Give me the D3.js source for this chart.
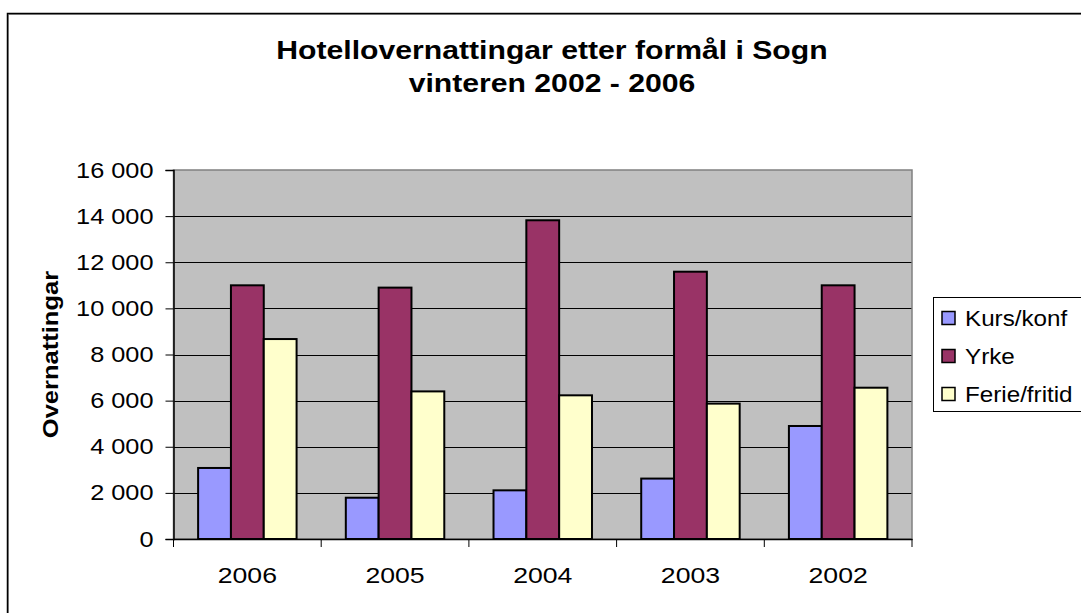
<!DOCTYPE html>
<html><head><meta charset="utf-8">
<script src="https://cdn.jsdelivr.net/npm/d3@7"></script>
<style>body{margin:0;background:#fff}svg{display:block;font-family:"Liberation Sans",Arial,sans-serif}</style>
</head><body><svg id="c" width="1081" height="613"></svg>
<script>
const years = ["2006","2005","2004","2003","2002"];
const seriesNames = ["Kurs/konf","Yrke","Ferie/fritid"];
const kurs = [3080,1790,2110,2620,4900];
const yrke = [11000,10900,13820,11590,11000];
const ferie = [8670,6400,6230,5870,6560];
const yTicks = [0,2000,4000,6000,8000,10000,12000,14000,16000];
const colors = ["#9999FF","#993366","#FFFFCC"];
const seriesVals = [kurs,yrke,ferie];

function stretch(sel, f){
  sel.each(function(){
    const w = this.getComputedTextLength();
    d3.select(this).attr("textLength", w*f).attr("lengthAdjust","spacingAndGlyphs");
  });
}

const svg = d3.select("#c");
svg.append("rect").attr("x",8.5).attr("y",14.5).attr("width",1090).attr("height",620).attr("fill","none").attr("stroke","#999").attr("stroke-width",1);
svg.append("rect").attr("x",7.5).attr("y",13.5).attr("width",1090).attr("height",620).attr("fill","none").attr("stroke","#000").attr("stroke-width",1.5);

const L=173.5,R=912,T=170,B=539;
const x = d3.scaleBand().domain(years).range([L,R]).paddingInner(0).paddingOuter(0);
const y = d3.scaleLinear().domain([0,16000]).range([B,T]);

svg.append("rect").attr("x",L).attr("y",T).attr("width",R-L).attr("height",B-T).attr("fill","#C0C0C0");
svg.append("g").selectAll("line").data(yTicks.filter(d=>d>0&&d<16000)).join("line")
  .attr("x1",L).attr("x2",R).attr("y1",d=>Math.round(y(d))+0.5).attr("y2",d=>Math.round(y(d))+0.5)
  .attr("stroke","#000").attr("stroke-width",1);
svg.append("rect").attr("x",L).attr("y",T).attr("width",R-L).attr("height",B-T).attr("fill","none").attr("stroke","#808080").attr("stroke-width",1.5);

const bw = x.bandwidth()/(3+1.5);
const inner = d3.scaleBand().domain(seriesNames).range([bw*0.75, bw*3.75]).padding(0);
const g = svg.append("g");
years.forEach((yr,i)=>{
  seriesNames.forEach((s,j)=>{
    const v = seriesVals[j][i];
    g.append("rect").attr("x",x(yr)+inner(s)).attr("y",y(v)).attr("width",inner.bandwidth()).attr("height",B-y(v))
      .attr("fill",colors[j]).attr("stroke","#000").attr("stroke-width",2);
  });
});

const ya = svg.append("g").attr("transform",`translate(${L},0)`)
  .call(d3.axisLeft(y).tickValues(yTicks).tickSize(8).tickPadding(12).tickFormat(d=>d3.format(",")(d).replace(/,/g," ")));
ya.select(".domain").attr("stroke","#000").attr("stroke-width",1.5);
ya.selectAll(".tick line").attr("stroke","#000");
ya.selectAll("text").attr("font-size",22).attr("fill","#000").attr("font-family","Liberation Sans, Arial").call(stretch,1.15);

const xa = svg.append("g").attr("transform",`translate(0,${B})`)
  .call(d3.axisBottom(x).tickSize(0).tickPadding(28));
xa.select(".domain").attr("stroke","#000").attr("stroke-width",1.5);
xa.selectAll("text").attr("font-size",22).attr("fill","#000").attr("font-family","Liberation Sans, Arial").call(stretch,1.21);
svg.append("g").selectAll("line").data(years.concat(["end"])).join("line")
  .attr("x1",(d,i)=>L+i*x.bandwidth()).attr("x2",(d,i)=>L+i*x.bandwidth())
  .attr("y1",B).attr("y2",B+8).attr("stroke","#000").attr("stroke-width",1);

svg.append("text").attr("x",552).attr("y",59).attr("text-anchor","middle").attr("font-size",26).attr("font-weight","bold").text("Hotellovernattingar etter formål i Sogn").call(stretch,1.16);
svg.append("text").attr("x",552).attr("y",92).attr("text-anchor","middle").attr("font-size",26).attr("font-weight","bold").text("vinteren 2002 - 2006").call(stretch,1.16);
svg.append("text").attr("transform",`translate(58,${(T+B)/2}) rotate(-90)`).attr("text-anchor","middle").attr("font-size",22).attr("font-weight","bold").text("Overnattingar").call(stretch,1.16);

svg.append("rect").attr("x",933.5).attr("y",297.5).attr("width",160).attr("height",114).attr("fill","#fff").attr("stroke","#000").attr("stroke-width",1);
const leg = svg.append("g");
seriesNames.forEach((s,j)=>{
  const cy = 318 + j*38;
  leg.append("rect").attr("x",942).attr("y",cy-6.5).attr("width",13).attr("height",13).attr("fill",colors[j]).attr("stroke","#000").attr("stroke-width",1.5);
  leg.append("text").attr("x",965).attr("y",cy+8).attr("font-size",22).text(s).call(stretch,1.1);
});
</script></body></html>
